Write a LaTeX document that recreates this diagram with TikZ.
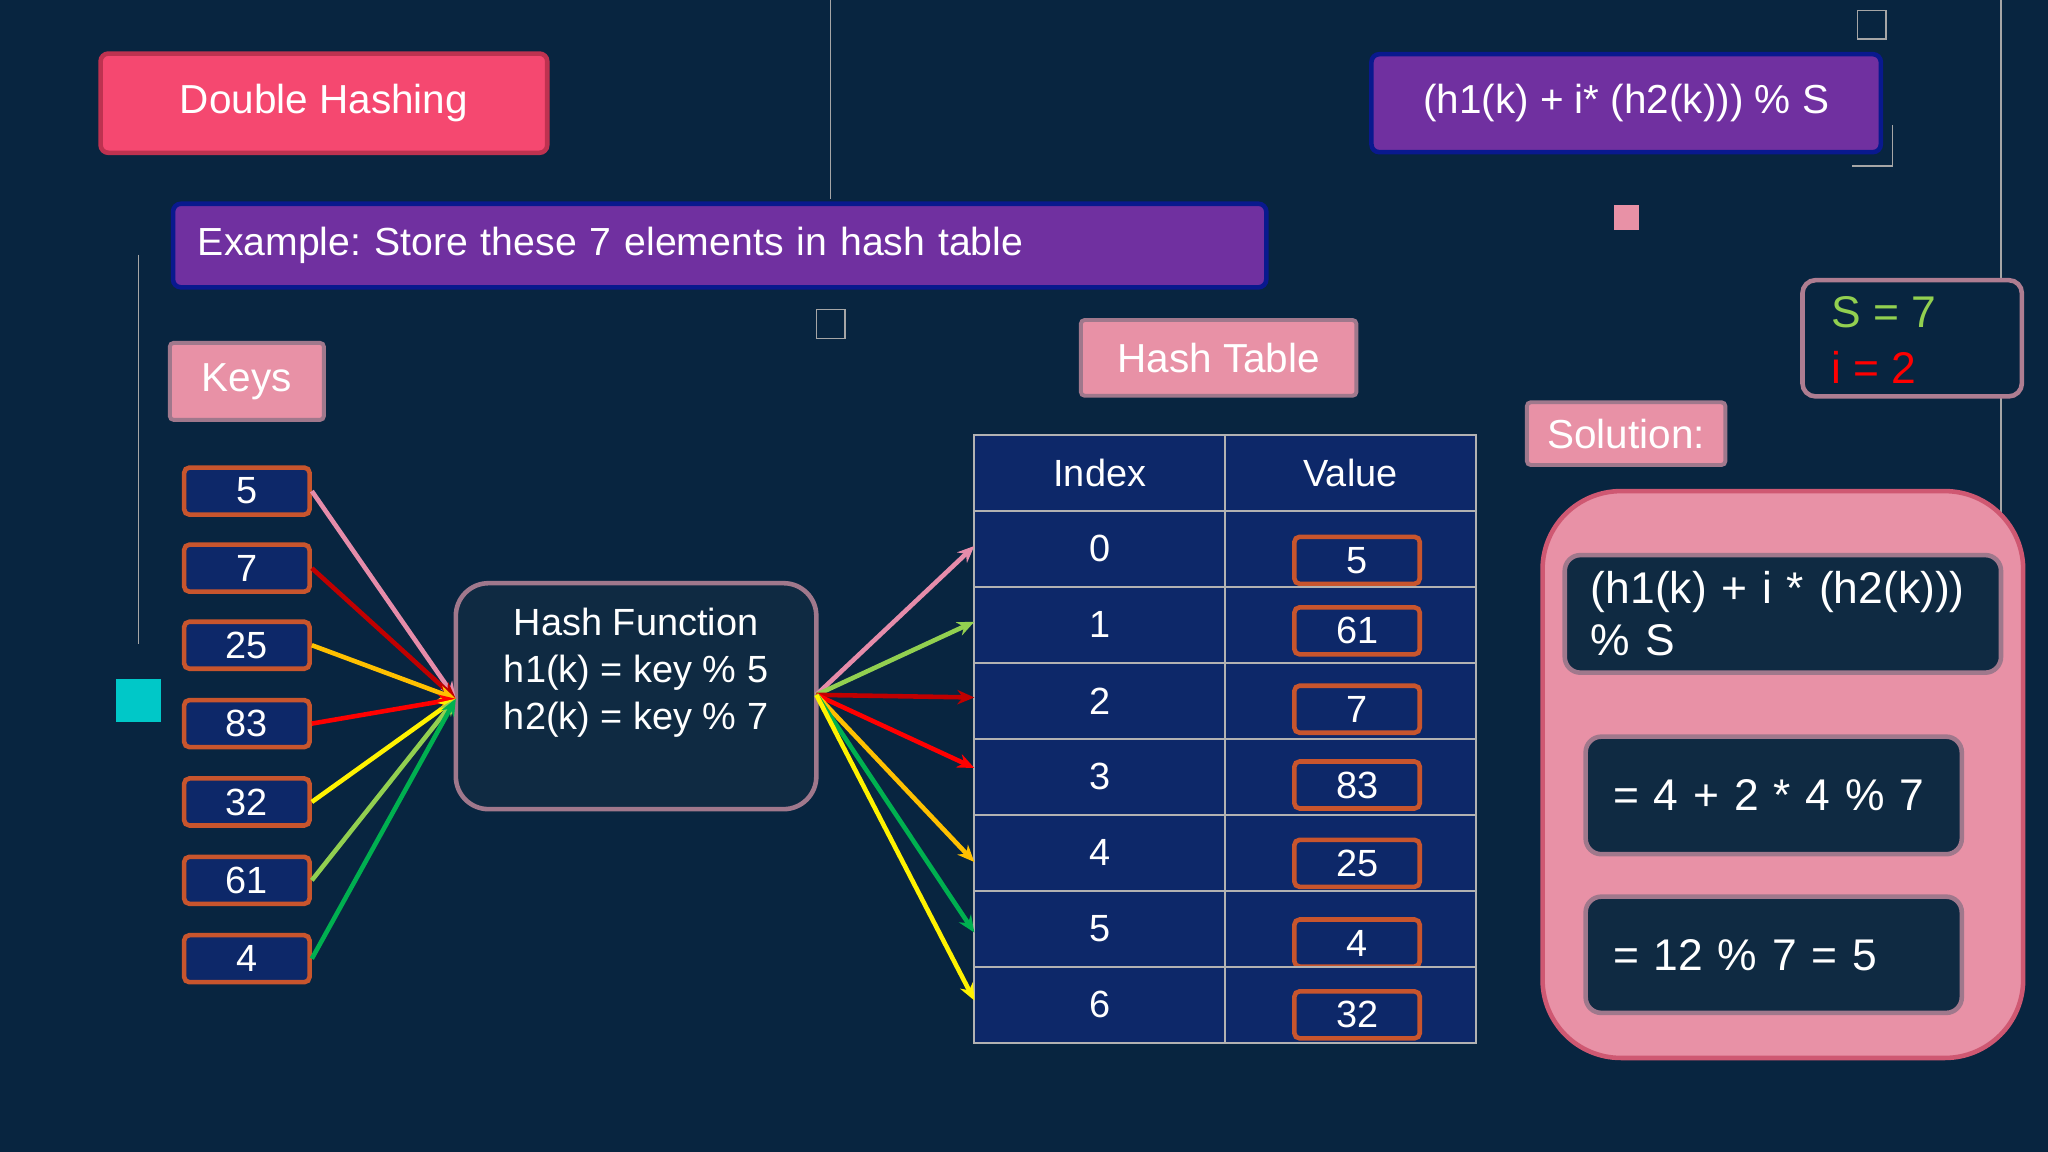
\documentclass[tikz,border=0pt]{standalone}
\usepackage{fontspec}
\setmainfont{Liberation Sans}
\frenchspacing
\usetikzlibrary{arrows.meta}
\definecolor{bg}{RGB}{8,37,64}
\definecolor{hot}{RGB}{245,72,112}
\definecolor{hotb}{RGB}{190,50,80}
\definecolor{purp}{RGB}{112,48,160}
\definecolor{pinkf}{RGB}{232,145,166}
\definecolor{pinkb}{RGB}{160,120,140}
\definecolor{keyf}{RGB}{13,40,105}
\definecolor{keyb}{RGB}{200,85,45}
\definecolor{darkf}{RGB}{15,42,66}
\definecolor{lgreen}{RGB}{146,208,80}
\definecolor{dred}{RGB}{192,0,0}
\definecolor{orng}{RGB}{255,192,0}
\definecolor{grn}{RGB}{0,176,80}
\definecolor{apink}{RGB}{230,140,170}
\definecolor{teal2}{RGB}{0,200,200}
\tikzset{
  txt/.style={text=white,font=\fontsize{29}{35}\selectfont},
  box/.style={draw,line width=3.5pt,rounded corners=6pt,inner sep=0pt,txt},
  keyb/.style={box,fill=keyf,draw=keyb,minimum width=96,minimum height=36,rounded corners=4pt},
  pbox/.style={box,fill=pinkf,draw=pinkb,line width=3pt,rounded corners=3pt},
  cell/.style={draw=gray!60,line width=1.4pt,fill=keyf,minimum width=192,minimum height=58.2,inner sep=0pt,txt},
  arr/.style={line width=3.5pt,-{Stealth[length=13pt,width=11pt]}},
  deco/.style={draw=gray!70,line width=1.2pt},
  big/.style={font=\fontsize{34}{40}\selectfont}
}
\begin{document}
\begin{tikzpicture}[x=1pt,y=-1pt]
\fill[bg] (0,0) rectangle (1568,882);
\useasboundingbox (0,0) rectangle (1568,882);
% decorations
\draw[deco] (636,0) -- (636,152);
\draw[deco] (106,195) -- (106,493);
\draw[deco] (1532,0) -- (1532,395);
\draw[deco] (1422,8) rectangle (1444,30);
\draw[deco] (625,237) rectangle (647,259);
\draw[deco] (1418,127) -- (1449,127) -- (1449,96);
\fill[pinkf] (1236,157) rectangle (1255,176);
\fill[teal2] (89,520) rectangle (123,553);
% titles
\node[box,fill=hot,draw=hotb,minimum width=342,minimum height=76,font=\fontsize{31}{36}\selectfont] (dh) at (248,79) {Double Hashing};
\node[box,fill=purp,draw=darkf!60!blue,minimum width=390,minimum height=75,font=\fontsize{31}{36}\selectfont] (fm) at (1245,79) {(h1(k) + i* (h2(k))) \% S};
\node[box,fill=purp,draw=darkf!60!blue,minimum width=837,minimum height=64,text width=799,align=left,font=\fontsize{30}{36}\selectfont] (ex) at (551,188) {Example: Store these 7 elements in hash table};
\node[pbox,minimum width=118,minimum height=59,font=\fontsize{31}{36}\selectfont] (keys) at (189,292) {Keys};
\node[pbox,minimum width=211,minimum height=58,font=\fontsize{31}{36}\selectfont] (ht) at (933,274) {Hash Table};
\node[pbox,minimum width=152,minimum height=48,font=\fontsize{31}{36}\selectfont] (sol) at (1245,332) {Solution:};
\node[box,fill=bg,draw=pinkb!80!pinkf,minimum width=168,minimum height=89,rounded corners=10pt] (si) at (1464,259) {};
\node[anchor=west,text=lgreen,big,inner sep=0pt] (s7) at (1402,239) {S = 7};
\node[anchor=west,text=red,big,inner sep=0pt] (i2) at (1402,281) {i = 2};
% keys
\foreach \n/\v/\y in {k1/5/376,k2/7/435,k3/25/494,k4/83/554,k5/32/614,k6/61/674,k7/4/734}
  \node[keyb] (\n) at (189,\y) {\v};
% hash function
\node[box,fill=darkf,draw=pinkb,minimum width=276,minimum height=173,rounded corners=25pt] (hf) at (487,533) {};
\node[txt,align=center,font=\fontsize{29}{36}\selectfont] (hft) at (487,515) {Hash Function\\h1(k) = key \% 5\\h2(k) = key \% 7};
% table
\node[cell,minimum width=192] (hi) at (842,362) {Index};
\node[cell] (hv) at (1034,362) {Value};
\foreach \i/\v/\vy in {0/5/429,1/61/483,2/7/543,3/83/601,4/25/661,5/4/722,6/32/777}{
  \pgfmathsetmacro{\yy}{420.2+58.2*\i}
  \node[cell] (r\i) at (842,\yy) {\i};
  \node[cell] (c\i) at (1034,\yy) {};
  \node[keyb] (v\i) at (1039,\vy) {\v};
}
% solution
\node[box,fill=pinkf,draw=hotb!60!pinkf,minimum width=368,minimum height=434,rounded corners=60pt] (sb) at (1365,593) {};
\node[box,fill=darkf,draw=pinkb,minimum width=334,minimum height=90,rounded corners=12pt,text width=294,align=left,big] (e1) at (1365,470) {(h1(k) + i * (h2(k)))\\\% S};
\node[box,fill=darkf,draw=pinkb,minimum width=288,minimum height=90,rounded corners=12pt,text width=246,align=left,big] (e2) at (1358,609) {= 4 + 2 * 4 \% 7};
\node[box,fill=darkf,draw=pinkb,minimum width=288,minimum height=89,rounded corners=12pt,text width=246,align=left,big] (e3) at (1358,731) {= 12 \% 7 = 5};
% arrows in
\coordinate (hin) at (349,535);
\coordinate (hout) at (625,532);
\foreach \n/\c in {k1/apink,k2/dred,k3/orng,k4/red,k5/yellow,k6/lgreen,k7/grn}
  \draw[arr,\c] (\n.east) -- (hin);
% arrows out
\foreach \i/\c/\y in {0/apink/418,1/lgreen/476,2/dred/534,3/red/588,4/orng/660,5/grn/714,6/yellow/766}{
  \coordinate (t\i) at (746,\y);
  \draw[arr,\c] (hout) -- (t\i);
}
\end{tikzpicture}
\end{document}
